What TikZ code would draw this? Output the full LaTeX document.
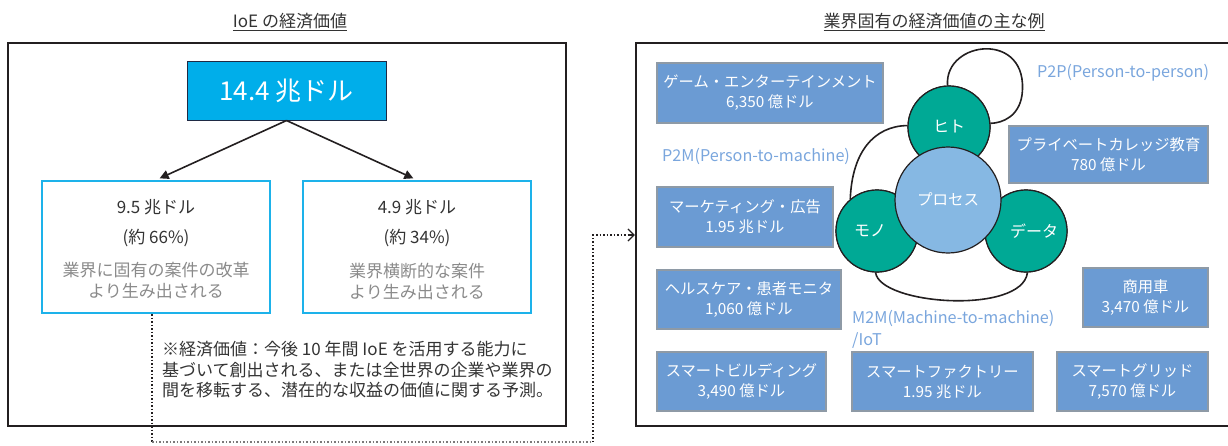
\documentclass[tikz,border=0pt]{standalone}
\usepackage{fontspec}
\setmainfont{Noto Sans CJK JP}
\usetikzlibrary{arrows.meta,calc}
\definecolor{cyanbox}{HTML}{00AEEA}
\definecolor{navy}{HTML}{1F2A44}
\definecolor{subborder}{HTML}{1DB2EA}
\definecolor{steel}{HTML}{6B9BD3}
\definecolor{steelborder}{HTML}{8E9AA6}
\definecolor{circteal}{HTML}{00A995}
\definecolor{proc}{HTML}{86B8E3}
\definecolor{lbl}{HTML}{7AA6DD}
\definecolor{desctext}{HTML}{8A8A8A}
\definecolor{darktext}{HTML}{333333}
\definecolor{outline}{HTML}{231F20}
\begin{document}
\begin{tikzpicture}[x=1pt,y=-1pt,
  frame/.style={draw=outline, line width=2.2pt, rectangle, inner sep=0pt},
  titletext/.style={font=\fontsize{17}{20}\selectfont, text=darktext},
  topbox/.style={draw=navy, line width=1pt, fill=cyanbox, text=white, inner sep=0pt, minimum width=199pt, minimum height=59pt, font=\fontsize{26}{30}\selectfont},
  subbox/.style={draw=subborder, line width=2pt, inner sep=0pt, minimum width=228pt, minimum height=132pt},
  numtext/.style={font=\fontsize{17}{21}\selectfont, text=darktext},
  desc/.style={font=\fontsize{17}{21}\selectfont, text=desctext, align=center},
  valbox/.style={draw=steelborder, line width=1.2pt, fill=steel, text=white, align=center, inner sep=0pt, font=\fontsize{15.3}{20}\selectfont},
  lbltext/.style={text=lbl, font=\fontsize{16.2}{22}\selectfont, inner sep=0pt, anchor=west, align=left},
  smallcirc/.style={circle, draw=outline, line width=1.2pt, fill=circteal, text=white, minimum size=82pt, inner sep=0pt, font=\fontsize{16}{20}\selectfont},
  proccirc/.style={circle, draw=outline, line width=1.2pt, fill=proc, text=white, minimum size=106pt, inner sep=0pt, font=\fontsize{15.5}{20}\selectfont},
  loopline/.style={draw=outline, line width=1.6pt},
  bigarrow/.style={draw=outline, line width=1.6pt, -{Triangle[length=9pt,width=9pt]}},
  dotline/.style={draw=outline, line width=1.5pt, dotted}
]
\useasboundingbox (0,0) rectangle (1228,445);

% ---------- left part ----------
\node[titletext] (ltitle) at (290,22) {\underline{IoE の経済価値}};
\node[frame, minimum width=558pt, minimum height=383pt] (lframe) at (287,234.5) {};
\node[topbox] (top) at (286.5,90.5) {14.4 兆ドル};
\node[subbox] (lbox) at (156,247) {};
\node[subbox] (rbox) at (417,247) {};

\node[numtext] (lnum) at (156,207) {9.5 兆ドル};
\node[numtext] (lpct) at (156,238) {(約 66\%)};
\node[desc] (ldesc) at (156,281) {業界に固有の案件の改革\\より生み出される};
\node[numtext] (rnum) at (417,207) {4.9 兆ドル};
\node[numtext] (rpct) at (417,238) {(約 34\%)};
\node[desc] (rdesc) at (417,281) {業界横断的な案件\\より生み出される};

\draw[bigarrow, shorten >=4pt] (top.south) -- (lbox.north);
\draw[bigarrow, shorten >=4pt] (top.south) -- (rbox.north);

\node[anchor=north west, inner sep=0pt, align=left, text=darktext, font=\fontsize{17}{20.5}\selectfont] (note) at (162,341)
  {※経済価値：今後 10 年間 IoE を活用する能力に\\基づいて創出される、または全世界の企業や業界の\\間を移転する、潜在的な収益の価値に関する予測。};

% ---------- right part ----------
\node[titletext] (rtitle) at (934,22) {\underline{業界固有の経済価値の主な例}};
\node[frame, minimum width=596pt, minimum height=383pt] (rframe) at (934,234.5) {};

% dotted connector
\coordinate (d1) at (152,442);
\coordinate (d2) at (593,442);
\coordinate (d3) at (593,235);
\draw[dotline] (lbox.south -| d1) -- (d1);
\draw[dotline, draw=outline!60] (d1) -- (d2);
\draw[dotline] (d2) -- (d3) -- ($(d3 -| rframe.west)+(-4,0)$);
\draw[draw=outline, line width=1.3pt, -{Straight Barb[length=6pt,width=12pt]}] ($(d3 -| rframe.west)+(-6,0)$) -- (d3 -| rframe.west);

% value boxes
\node[valbox, minimum width=226pt, minimum height=60pt] (game) at (770,93) {ゲーム・エンターテインメント\\6,350 億ドル};
\node[valbox, minimum width=176pt, minimum height=60pt] (mkt) at (745,217) {マーケティング・広告\\1.95 兆ドル};
\node[valbox, minimum width=184pt, minimum height=59pt] (health) at (749,299.5) {ヘルスケア・患者モニタ\\1,060 億ドル};
\node[valbox, minimum width=169pt, minimum height=59pt] (bldg) at (741.5,381.5) {スマートビルディング\\3,490 億ドル};
\node[valbox, minimum width=181pt, minimum height=59pt] (factory) at (942.5,381.5) {スマートファクトリー\\1.95 兆ドル};
\node[valbox, minimum width=151pt, minimum height=59pt] (grid) at (1132.5,381.5) {スマートグリッド\\7,570 億ドル};
\node[valbox, minimum width=125pt, minimum height=59pt] (truck) at (1145.5,297.5) {商用車\\3,470 億ドル};
\node[valbox, minimum width=199pt, minimum height=57pt] (college) at (1108.5,154.5) {プライベートカレッジ教育\\780 億ドル};

% labels
\node[lbltext] (p2p) at (1037,73) {P2P(Person-to-person)};
\node[lbltext] (p2m) at (662,156) {P2M(Person-to-machine)};
\node[lbltext] (m2m) at (852,329) {M2M(Machine-to-machine)\\/IoT};

% circles
\coordinate (hc) at (949,127);
\coordinate (mc) at (877,231);
\coordinate (dc) at (1026,231);
\coordinate (pc) at (948,200);
\node[smallcirc] (hito) at (hc) {};
\node[smallcirc] (mono) at (mc) {};
\node[smallcirc] (data) at (dc) {};

\draw[loopline] (hito.92) .. controls (944,40) and (1030,30) .. (1022,95) .. controls (1019,116) and (1003,123) .. (hito.5);
\draw[loopline] (hito.178) .. controls (874,126) and (852,152) .. (mono.130);
\draw[loopline] (mono.268) .. controls (880,305) and (1022,315) .. (data.272);

\node[smallcirc] (hito2) at (hc) {ヒト};
\node[smallcirc] (mono2) at (mc) {\hspace*{-14pt}モノ};
\node[smallcirc] (data2) at (dc) {\hspace*{16pt}データ};
\node[proccirc] (process) at (pc) {\raisebox{2pt}{プロセス}};
\end{tikzpicture}
\end{document}
